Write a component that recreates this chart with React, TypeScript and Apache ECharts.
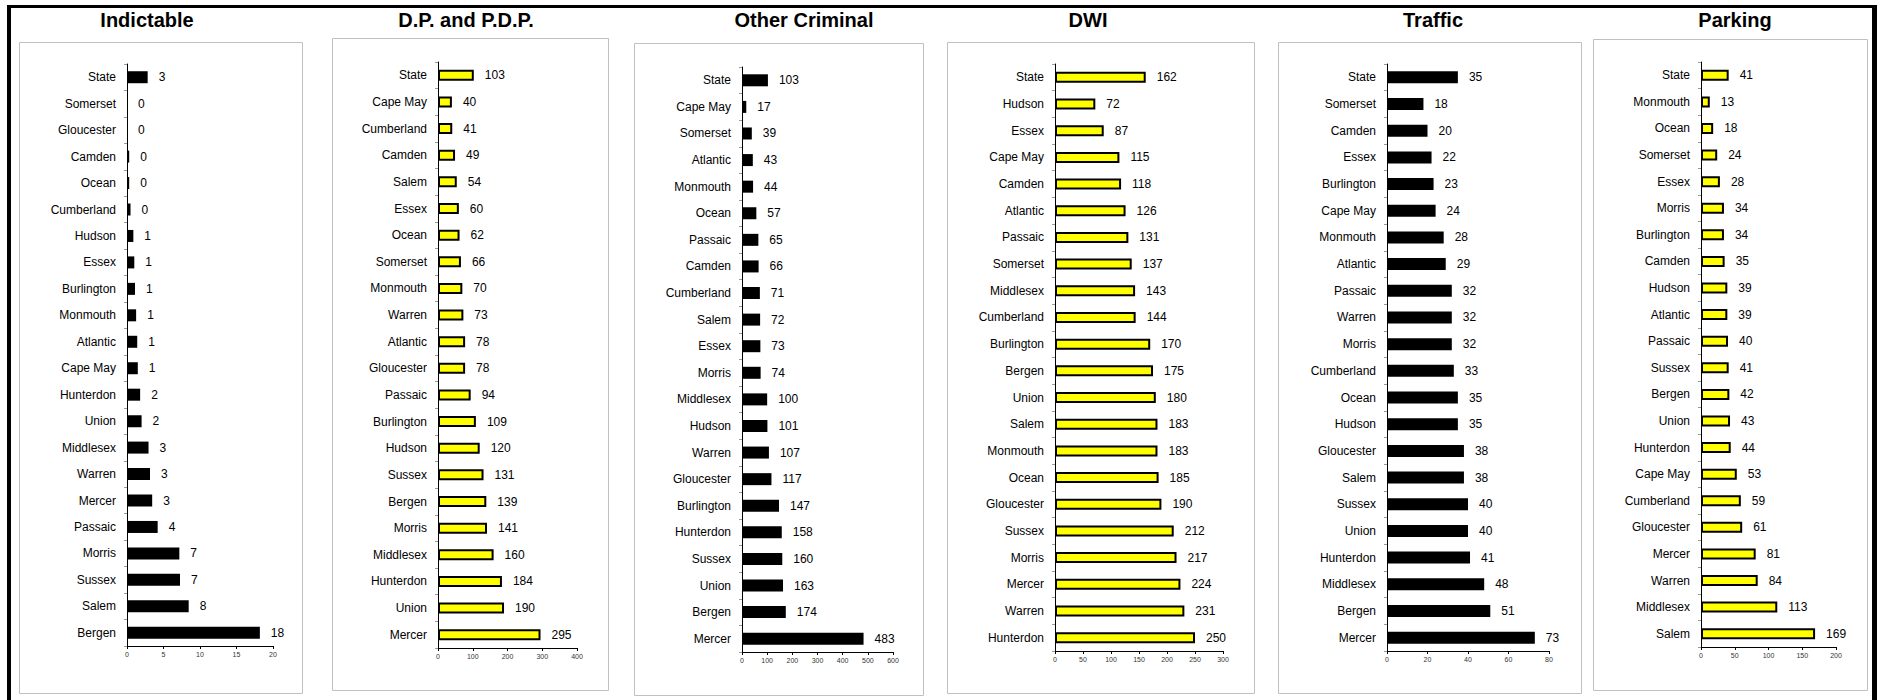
import React, { useEffect, useRef } from "react";
import * as echarts from "echarts";

// ---------- DATA ----------
const indictableCats = ["State", "Somerset", "Gloucester", "Camden", "Ocean", "Cumberland", "Hudson", "Essex", "Burlington", "Monmouth", "Atlantic", "Cape May", "Hunterdon", "Union", "Middlesex", "Warren", "Mercer", "Passaic", "Morris", "Sussex", "Salem", "Bergen"];
const indictableVals = [2.83, 0, 0, 0.3, 0.3, 0.48, 0.87, 1.0, 1.1, 1.25, 1.4, 1.48, 1.8, 2.0, 2.95, 3.15, 3.45, 4.2, 7.17, 7.26, 8.45, 18.2];

const dpCats = ["State", "Cape May", "Cumberland", "Camden", "Salem", "Essex", "Ocean", "Somerset", "Monmouth", "Warren", "Atlantic", "Gloucester", "Passaic", "Burlington", "Hudson", "Sussex", "Bergen", "Morris", "Middlesex", "Hunterdon", "Union", "Mercer"];
const dpVals = [103, 40, 41, 49, 54, 60, 62, 66, 70, 73, 78, 78, 94, 109, 120, 131, 139, 141, 160, 184, 190, 295];

const otherCats = ["State", "Cape May", "Somerset", "Atlantic", "Monmouth", "Ocean", "Passaic", "Camden", "Cumberland", "Salem", "Essex", "Morris", "Middlesex", "Hudson", "Warren", "Gloucester", "Burlington", "Hunterdon", "Sussex", "Union", "Bergen", "Mercer"];
const otherVals = [103, 17, 39, 43, 44, 57, 65, 66, 71, 72, 73, 74, 100, 101, 107, 117, 147, 158, 160, 163, 174, 483];

const dwiCats = ["State", "Hudson", "Essex", "Cape May", "Camden", "Atlantic", "Passaic", "Somerset", "Middlesex", "Cumberland", "Burlington", "Bergen", "Union", "Salem", "Monmouth", "Ocean", "Gloucester", "Sussex", "Morris", "Mercer", "Warren", "Hunterdon"];
const dwiVals = [162, 72, 87, 115, 118, 126, 131, 137, 143, 144, 170, 175, 180, 183, 183, 185, 190, 212, 217, 224, 231, 250];

const trafficCats = ["State", "Somerset", "Camden", "Essex", "Burlington", "Cape May", "Monmouth", "Atlantic", "Passaic", "Warren", "Morris", "Cumberland", "Ocean", "Hudson", "Gloucester", "Salem", "Sussex", "Union", "Hunterdon", "Middlesex", "Bergen", "Mercer"];
const trafficVals = [35, 18, 20, 22, 23, 24, 28, 29, 32, 32, 32, 33, 35, 35, 38, 38, 40, 40, 41, 48, 51, 73];

const parkingCats = ["State", "Monmouth", "Ocean", "Somerset", "Essex", "Morris", "Burlington", "Camden", "Hudson", "Atlantic", "Passaic", "Sussex", "Bergen", "Union", "Hunterdon", "Cape May", "Cumberland", "Gloucester", "Mercer", "Warren", "Middlesex", "Salem"];
const parkingVals = [41, 13, 18, 24, 28, 34, 34, 35, 39, 39, 40, 41, 42, 43, 44, 53, 59, 61, 81, 84, 113, 169];

const titles = ["Indictable", "D.P. and P.D.P.", "Other Criminal", "DWI", "Traffic", "Parking"];
const axisMax = [20, 400, 600, 300, 80, 200];
const axisStep = [5, 100, 100, 50, 20, 50];

// ---------- LAYOUT ----------
const FONT = '"Liberation Sans", Arial, sans-serif';
const panels = [
  { cats: indictableCats, vals: indictableVals, yellow: false, round: true, box: [19, 42, 283, 651], grid: [127, 64, 146, 582], tx: 147 },
  { cats: dpCats, vals: dpVals, yellow: true, round: false, box: [332, 38, 276, 652], grid: [438, 62, 139, 586], tx: 466 },
  { cats: otherCats, vals: otherVals, yellow: false, round: false, box: [634, 43, 289, 652], grid: [742, 67, 151, 585], tx: 804 },
  { cats: dwiCats, vals: dwiVals, yellow: true, round: false, box: [947, 42, 307, 651], grid: [1055, 64, 168, 587], tx: 1088 },
  { cats: trafficCats, vals: trafficVals, yellow: false, round: false, box: [1278, 42, 303, 651], grid: [1387, 64, 162, 587], tx: 1433 },
  { cats: parkingCats, vals: parkingVals, yellow: true, round: false, box: [1593, 39, 274, 651], grid: [1701, 62, 135, 585], tx: 1735 },
];

export default function App() {
  const ref = useRef<HTMLDivElement>(null);

  useEffect(() => {
    if (!ref.current) return;
    const chart = echarts.init(ref.current, undefined, { renderer: "svg" });

    const graphic: any[] = [
      { type: "rect", shape: { x: 7, y: 5, width: 1870, height: 3 }, style: { fill: "#000" } },
      { type: "rect", shape: { x: 7, y: 5, width: 4, height: 695 }, style: { fill: "#000" } },
      { type: "rect", shape: { x: 1872, y: 5, width: 5, height: 695 }, style: { fill: "#000" } },
    ];
    panels.forEach((p, i) => {
      graphic.push({
        type: "rect",
        shape: { x: p.box[0] + 0.5, y: p.box[1] + 0.5, width: p.box[2], height: p.box[3] },
        style: { fill: "none", stroke: "#c0c0c0", lineWidth: 1 },
      });
      graphic.push({
        type: "text",
        x: p.tx,
        y: 20,
        style: {
          text: titles[i],
          fontSize: 20,
          fontWeight: "bold",
          fontFamily: FONT,
          fill: "#000",
          align: "center",
          verticalAlign: "middle",
          textAlign: "center",
          textVerticalAlign: "middle",
        },
      });
    });

    const option: any = {
      animation: false,
      backgroundColor: "#fff",
      graphic,
      grid: panels.map((p) => ({ left: p.grid[0], top: p.grid[1], width: p.grid[2], height: p.grid[3], containLabel: false })),
      xAxis: panels.map((p, i) => ({
        gridIndex: i,
        type: "value",
        min: 0,
        max: axisMax[i],
        interval: axisStep[i],
        axisLine: { show: true, lineStyle: { color: "#000", width: 1 } },
        axisTick: { show: true, length: 3, lineStyle: { color: "#000" } },
        axisLabel: { fontSize: 7, color: "#333", margin: 5, fontFamily: FONT },
        splitLine: { show: false },
      })),
      yAxis: panels.map((p, i) => ({
        gridIndex: i,
        type: "category",
        data: p.cats,
        inverse: true,
        axisLine: { show: true, lineStyle: { color: "#000", width: 1 } },
        axisTick: { show: true, length: 3, lineStyle: { color: "#999" } },
        axisLabel: { fontSize: 12, color: "#000", margin: 11, fontFamily: FONT, interval: 0 },
        splitLine: { show: false },
      })),
      series: panels.map((p, i) => ({
        type: "bar",
        xAxisIndex: i,
        yAxisIndex: i,
        data: p.vals,
        barWidth: p.yellow ? 11 : 12,
        itemStyle: p.yellow
          ? { color: "#ffff00", borderColor: "#000", borderWidth: 2 }
          : { color: "#000" },
        label: {
          show: true,
          position: "right",
          distance: 11,
          fontSize: 12,
          color: "#000",
          fontFamily: FONT,
          formatter: (prm: any) => (p.round ? String(Math.round(prm.value)) : String(prm.value)),
        },
      })),
    };
    chart.setOption(option);
    return () => chart.dispose();
  }, []);

  return <div ref={ref} style={{ position: "absolute", left: 0, top: 0, width: 1877, height: 700 }} />;
}
